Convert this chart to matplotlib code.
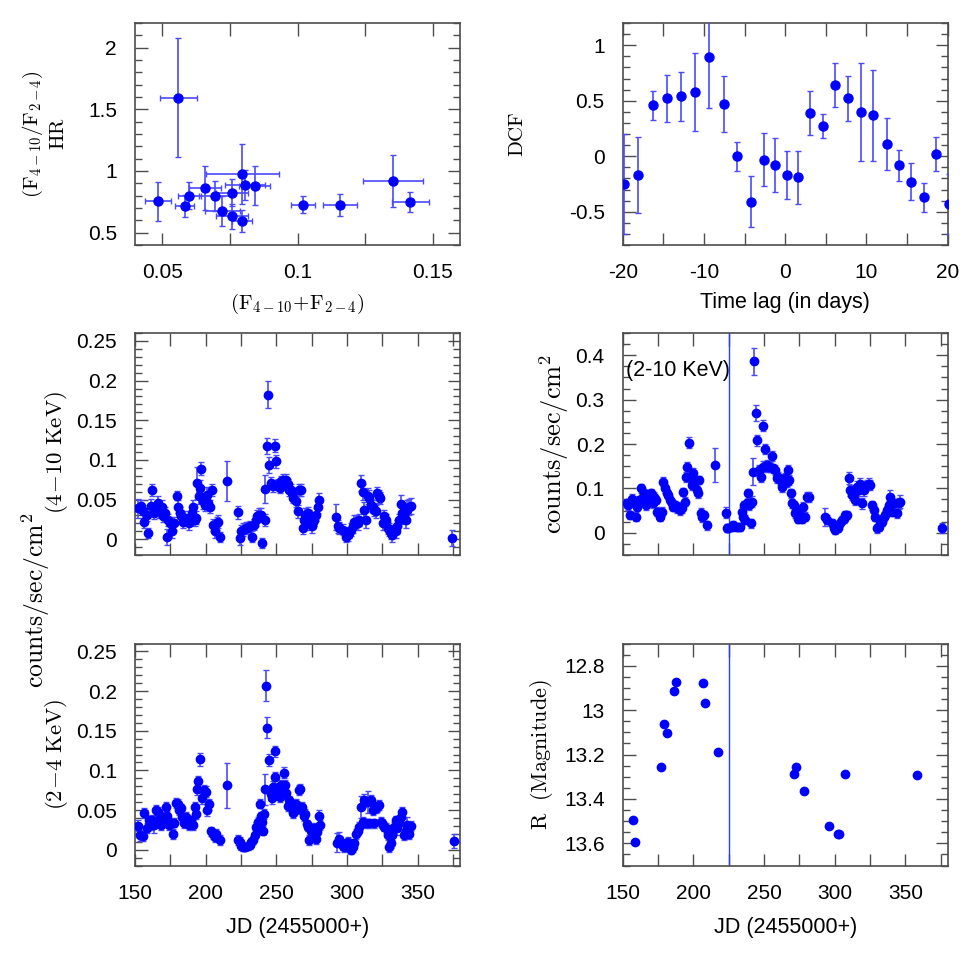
import matplotlib
matplotlib.use('Agg')
import matplotlib.pyplot as plt
from matplotlib.ticker import MultipleLocator

plt.rcParams['font.family'] = ['Liberation Sans', 'DejaVu Sans']
plt.rcParams['mathtext.fontset'] = 'cm'
plt.rcParams['axes.unicode_minus'] = False

# --- hardness ratio vs total flux (top left) ---
flux_sum = [0.0485, 0.056, 0.0583, 0.0601, 0.0658, 0.0696, 0.0723, 0.0758, 0.0759,
            0.0796, 0.0807, 0.0795, 0.0842, 0.1021, 0.1157, 0.1352, 0.1417]
hr = [0.754, 1.595, 0.713, 0.80, 0.862, 0.797, 0.676, 0.824, 0.632,
      0.976, 0.886, 0.595, 0.881, 0.727, 0.727, 0.916, 0.749]
sum_err = [0.0048, 0.0069, 0.0034, 0.0042, 0.006, 0.006, 0.0065, 0.006, 0.006,
           0.0134, 0.0073, 0.0038, 0.0057, 0.0044, 0.0064, 0.011, 0.0067]
hr_err = [0.16, 0.48, 0.09, 0.11, 0.18, 0.12, 0.125, 0.11, 0.1,
          0.24, 0.12, 0.09, 0.16, 0.068, 0.088, 0.21, 0.08]

# --- DCF (top right) ---
lag = [-19.9, -18.15, -16.3, -14.5, -12.8, -11.05, -9.4, -7.57, -5.97, -4.25, -2.6, -1.21, 0.27,
       1.58, 3.1, 4.6, 6.17, 7.69, 9.33, 10.85, 12.53, 14.05, 15.5, 17.05, 18.5, 20.2]
dcf = [-0.25, -0.17, 0.46, 0.52, 0.54, 0.58, 0.89, 0.47, 0.0, -0.41, -0.03, -0.08, -0.17,
       -0.19, 0.39, 0.27, 0.64, 0.52, 0.40, 0.37, 0.11, -0.08, -0.23, -0.37, 0.02, -0.43]
dcf_err = [0.45, 0.345, 0.13, 0.21, 0.22, 0.35, 0.46, 0.25, 0.13, 0.23, 0.235, 0.245, 0.22,
           0.24, 0.2, 0.11, 0.2, 0.2, 0.44, 0.41, 0.235, 0.14, 0.165, 0.13, 0.15, 0.27]

# --- 4-10 keV light curve (middle left) ---
jd_h = [152.4, 154.0, 155.4, 156.3, 158.2, 159.4, 161.0, 162.2, 163.4, 165.3,
        166.5, 167.2, 168.8, 170.0, 171.2, 172.3, 173.5, 174.7, 176.3, 177.5,
        179.4, 180.6, 181.7, 182.9, 184.1, 185.3, 186.4, 188.3, 190.0, 191.1,
        192.3, 193.5, 194.2, 195.1, 196.1, 197.0, 198.2, 199.4, 201.0, 201.7,
        202.9, 204.5, 205.2, 206.4, 208.1, 208.8, 209.9, 215.1, 223.1, 224.0,
        225.2, 226.4, 228.3, 229.9, 231.6, 233.0, 233.9, 235.3, 236.5, 237.7,
        238.9, 240.0, 241.7, 241.9, 243.3, 243.8, 244.7, 246.4, 247.6, 249.0,
        249.9, 251.1, 252.3, 253.4, 254.6, 255.8, 257.0, 258.1, 259.3,
        260.5, 261.2, 262.1, 264.0, 265.2, 266.4, 267.5, 268.7, 269.9, 270.6,
        271.5, 272.2, 273.4, 273.9, 275.3, 275.8, 276.9, 278.1, 279.3, 280.5,
        292.2, 293.4, 294.6, 296.9, 299.3, 300.4, 301.6, 302.8, 304.0, 305.1,
        306.3, 307.5, 308.7, 309.9, 311.0, 312.2, 313.4, 314.6, 315.8, 316.9,
        318.1, 319.3, 320.5, 321.2, 322.4, 323.3, 325.2, 326.4, 327.5, 328.7,
        329.8, 331.0, 332.2, 333.4, 334.5, 335.7, 336.9, 338.1, 339.3, 340.4,
        341.6, 342.8, 344.0, 345.1, 374.5]
flux_h = [0.039, 0.042, 0.035, 0.022, 0.031, 0.008, 0.042, 0.062, 0.033, 0.039,
          0.046, 0.035, 0.041, 0.029, 0.033, 0.003, 0.024, 0.020, 0.010, 0.020,
          0.055, 0.041, 0.033, 0.029, 0.022, 0.027, 0.024, 0.020, 0.033, 0.041,
          0.024, 0.027, 0.071, 0.054, 0.065, 0.089, 0.048, 0.043, 0.056, 0.045,
          0.041, 0.062, 0.018, 0.010, 0.020, 0.022, 0.003, 0.073, 0.034, 0.001,
          0.010, 0.012, 0.014, 0.014, 0.016, 0.003, 0.018, 0.024, 0.029, 0.031,
          0.031, -0.005, 0.024, 0.063, 0.117, 0.182, 0.094, 0.071, 0.067, 0.118,
          0.098, 0.069, 0.065, 0.073, 0.075, 0.071, 0.075, 0.069, 0.062,
          0.062, 0.058, 0.052, 0.048, 0.035, 0.062, 0.062, 0.014, 0.024, 0.031,
          0.024, 0.033, 0.029, 0.020, 0.016, 0.022, 0.024, 0.031, 0.041, 0.050,
          0.028, 0.016, 0.014, 0.012, 0.003, 0.005, 0.008, 0.012, 0.016, 0.022,
          0.022, 0.020, 0.024, 0.071, 0.060, 0.037, 0.024, 0.054, 0.052, 0.043,
          0.041, 0.037, 0.035, 0.058, 0.054, 0.052, 0.020, 0.029, 0.024, 0.014,
          0.012, 0.008, 0.005, 0.010, 0.010, 0.016, 0.024, 0.044, 0.033, 0.029,
          0.024, 0.037, 0.041, 0.042, 0.001]
err_h = [0.012, 0.008, 0.008, 0.008, 0.008, 0.006, 0.009, 0.008, 0.008, 0.008,
         0.008, 0.008, 0.008, 0.008, 0.008, 0.010, 0.008, 0.008, 0.008, 0.008,
         0.006, 0.008, 0.008, 0.008, 0.008, 0.008, 0.008, 0.008, 0.008, 0.008,
         0.008, 0.008, 0.020, 0.010, 0.010, 0.008, 0.010, 0.008, 0.010, 0.008,
         0.008, 0.008, 0.008, 0.008, 0.008, 0.008, 0.006, 0.025, 0.008, 0.008,
         0.008, 0.008, 0.007, 0.007, 0.007, 0.007, 0.007, 0.007, 0.008, 0.008,
         0.008, 0.006, 0.008, 0.018, 0.010, 0.017, 0.010, 0.008, 0.008, 0.008,
         0.008, 0.007, 0.007, 0.007, 0.007, 0.007, 0.007, 0.007, 0.007,
         0.007, 0.007, 0.007, 0.008, 0.008, 0.008, 0.008, 0.008, 0.008, 0.008,
         0.008, 0.008, 0.008, 0.008, 0.008, 0.008, 0.008, 0.008, 0.008, 0.008,
         0.016, 0.008, 0.007, 0.007, 0.007, 0.007, 0.007, 0.008, 0.008, 0.008,
         0.008, 0.008, 0.008, 0.010, 0.010, 0.010, 0.010, 0.010, 0.010, 0.008,
         0.008, 0.008, 0.008, 0.008, 0.008, 0.008, 0.008, 0.008, 0.008, 0.008,
         0.008, 0.008, 0.008, 0.008, 0.008, 0.008, 0.008, 0.012, 0.010, 0.010,
         0.010, 0.012, 0.010, 0.010, 0.010]

# --- 2-10 keV light curve (middle right) ---
jd_t = [152.8, 154.0, 155.2, 156.4, 157.5, 159.4, 160.4, 161.8, 162.7, 164.1,
        165.1, 166.5, 167.4, 168.8, 169.8, 171.2, 172.4, 173.6, 174.5, 175.5,
        176.4, 177.6, 178.8, 179.9, 181.1, 182.3, 183.5, 184.7, 185.9, 187.0,
        188.2, 189.4, 190.6, 191.8, 193.0, 194.1, 194.8, 195.8, 197.2, 198.1,
        199.1, 200.0, 201.2, 202.4, 203.3, 204.3, 205.2, 206.2, 207.6, 209.5,
        215.4, 222.9, 223.6, 224.8, 227.2, 228.4, 230.7, 233.1, 234.3, 235.0,
        235.9, 236.6, 237.8, 239.0, 239.7, 240.6, 241.4, 242.1, 243.2, 244.4,
        245.3, 246.8, 247.9, 249.1, 249.6, 250.8, 251.9, 253.1, 254.3, 255.5,
        256.7, 257.9, 259.1, 260.2, 261.4, 262.6, 263.8, 265.0, 266.2, 267.3,
        268.0, 269.0, 269.7, 270.9, 272.1, 273.2, 274.4, 275.6, 276.8, 277.9,
        279.1, 280.3, 281.5, 293.3, 294.5, 298.0, 299.2, 300.4, 301.6, 302.7,
        303.9, 305.1, 306.3, 307.5, 308.7, 309.9, 311.0, 312.2, 313.4, 314.6,
        315.8, 317.0, 318.1, 319.3, 320.5, 321.7, 322.9, 324.0, 325.2, 326.4,
        327.6, 328.8, 330.0, 331.1, 332.3, 333.5, 334.7, 335.9, 337.1, 338.2,
        339.4, 340.6, 341.8, 344.1, 345.3, 346.5, 376.0]
flux_t = [0.066, 0.062, 0.040, 0.077, 0.070, 0.036, 0.059, 0.074, 0.100, 0.081,
          0.089, 0.062, 0.085, 0.077, 0.089, 0.066, 0.081, 0.074, 0.047, 0.044,
          0.036, 0.047, 0.115, 0.100, 0.089, 0.085, 0.074, 0.066, 0.059, 0.062,
          0.055, 0.059, 0.051, 0.055, 0.092, 0.070, 0.126, 0.149, 0.203, 0.123,
          0.108, 0.134, 0.115, 0.096, 0.089, 0.119, 0.044, 0.036, 0.040, 0.017,
          0.153, 0.045, 0.011, 0.010, 0.014, 0.017, 0.014, 0.014, 0.047, 0.036,
          0.062, 0.029, 0.066, 0.089, 0.062, 0.021, 0.070, 0.138, 0.386, 0.269,
          0.208, 0.141, 0.126, 0.149, 0.241, 0.189, 0.153, 0.149, 0.149, 0.173,
          0.145, 0.141, 0.123, 0.126, 0.119, 0.104, 0.119, 0.123, 0.115, 0.141,
          0.119, 0.089, 0.066, 0.062, 0.044, 0.051, 0.032, 0.040, 0.032, 0.059,
          0.036, 0.081, 0.081, 0.036, 0.029, 0.021, 0.010, 0.006, 0.014, 0.010,
          0.021, 0.029, 0.032, 0.040, 0.040, 0.123, 0.096, 0.085, 0.089, 0.074,
          0.104, 0.096, 0.111, 0.066, 0.096, 0.104, 0.108, 0.111, 0.108, 0.062,
          0.051, 0.036, 0.010, 0.014, 0.021, 0.025, 0.036, 0.040, 0.051, 0.062,
          0.081, 0.047, 0.066, 0.044, 0.066, 0.070, 0.011]
err_t = [0.010, 0.010, 0.010, 0.010, 0.010, 0.010, 0.010, 0.010, 0.010, 0.010,
         0.010, 0.010, 0.010, 0.010, 0.010, 0.010, 0.010, 0.010, 0.010, 0.012,
         0.010, 0.010, 0.010, 0.010, 0.010, 0.010, 0.010, 0.010, 0.010, 0.010,
         0.010, 0.010, 0.010, 0.010, 0.010, 0.010, 0.011, 0.011, 0.012, 0.011,
         0.011, 0.011, 0.011, 0.010, 0.010, 0.010, 0.012, 0.012, 0.010, 0.010,
         0.038, 0.012, 0.009, 0.009, 0.009, 0.009, 0.009, 0.009, 0.010, 0.010,
         0.010, 0.010, 0.010, 0.010, 0.010, 0.010, 0.012, 0.030, 0.030, 0.018,
         0.012, 0.012, 0.012, 0.012, 0.012, 0.011, 0.011, 0.011, 0.011, 0.011,
         0.011, 0.011, 0.011, 0.011, 0.011, 0.011, 0.011, 0.011, 0.011, 0.011,
         0.011, 0.010, 0.010, 0.010, 0.010, 0.010, 0.010, 0.010, 0.010, 0.010,
         0.010, 0.012, 0.012, 0.020, 0.010, 0.009, 0.009, 0.009, 0.009, 0.009,
         0.009, 0.009, 0.009, 0.010, 0.010, 0.013, 0.012, 0.012, 0.012, 0.012,
         0.012, 0.012, 0.012, 0.012, 0.012, 0.012, 0.012, 0.012, 0.012, 0.010,
         0.010, 0.010, 0.010, 0.010, 0.010, 0.010, 0.010, 0.010, 0.010, 0.010,
         0.015, 0.010, 0.010, 0.010, 0.012, 0.015, 0.012]

# --- 2-4 keV light curve (bottom left) ---
jd_s = [152.4, 153.5, 155.4, 156.6, 158.2, 160.1, 161.3, 162.2, 163.4, 164.8,
        166.0, 167.2, 168.3, 169.5, 170.5, 171.6, 172.8, 174.0, 175.2, 176.6,
        177.7, 178.9, 180.1, 181.3, 182.4, 183.6, 184.8, 186.0, 187.1, 188.3,
        189.5, 191.1, 192.3, 193.0, 194.0, 194.9, 196.3, 197.7, 198.9, 200.1,
        201.2, 202.4, 204.1, 205.2, 206.4, 207.6, 209.9, 215.1, 222.9, 224.0,
        225.2, 226.4, 227.6, 229.9, 231.1, 232.3, 233.5, 234.6, 235.8, 237.0,
        238.2, 238.9, 239.8, 240.5, 241.2, 242.1, 242.9, 243.6, 244.7, 245.9,
        247.1, 248.0, 249.0, 249.4, 250.4, 251.1, 252.3, 253.4, 254.6, 255.5,
        256.5, 257.0, 258.1, 259.3, 260.5, 261.7, 262.8, 264.0, 265.2, 265.9,
        267.1, 268.2, 269.4, 270.6, 271.5, 272.7, 273.4, 274.6, 275.8, 276.9,
        278.1, 279.1, 280.0, 281.2, 292.7, 294.1, 296.9, 298.1, 299.3, 300.4,
        301.6, 303.0, 304.0, 305.1, 306.3, 307.5, 308.7, 309.8, 311.0, 312.2,
        313.4, 314.6, 315.7, 316.9, 318.1, 319.3, 320.4, 321.6, 322.8, 324.0,
        325.1, 326.3, 327.5, 328.7, 329.8, 331.0, 332.2, 333.4, 334.5, 335.7,
        336.9, 338.1, 339.2, 340.4, 341.6, 342.8, 343.9, 345.1, 375.7]
flux_s = [0.030, 0.018, 0.017, 0.046, 0.027, 0.037, 0.031, 0.038, 0.031, 0.050,
          0.048, 0.037, 0.031, 0.041, 0.039, 0.054, 0.043, 0.031, 0.033, 0.020,
          0.034, 0.059, 0.058, 0.050, 0.052, 0.041, 0.033, 0.041, 0.037, 0.031,
          0.037, 0.031, 0.054, 0.045, 0.077, 0.086, 0.114, 0.065, 0.075, 0.073,
          0.050, 0.057, 0.023, 0.020, 0.016, 0.020, 0.012, 0.081, 0.012, 0.010,
          0.005, 0.003, 0.003, 0.005, 0.006, 0.010, 0.012, 0.019, 0.029, 0.035,
          0.058, 0.042, 0.035, 0.024, 0.045, 0.076, 0.207, 0.154, 0.113, 0.070,
          0.065, 0.079, 0.091, 0.124, 0.071, 0.076, 0.067, 0.081, 0.078, 0.097,
          0.081, 0.072, 0.055, 0.062, 0.054, 0.046, 0.056, 0.058, 0.051, 0.075,
          0.077, 0.054, 0.042, 0.045, 0.032, 0.029, 0.012, 0.024, 0.018, 0.027,
          0.013, 0.022, 0.042, 0.031, 0.009, 0.014, 0.005, 0.003, 0.008, 0.010,
          0.005, 0.000, 0.003, 0.008, 0.020, 0.024, 0.029, 0.054, 0.035, 0.062,
          0.033, 0.060, 0.033, 0.063, 0.050, 0.033, 0.052, 0.054, 0.056, 0.035,
          0.033, 0.029, 0.027, 0.018, 0.003, 0.008, 0.018, 0.029, 0.037, 0.027,
          0.033, 0.041, 0.048, 0.018, 0.024, 0.031, 0.020, 0.030, 0.011]
err_s = [0.007, 0.007, 0.006, 0.006, 0.006, 0.006, 0.006, 0.006, 0.010, 0.006,
         0.006, 0.006, 0.006, 0.006, 0.006, 0.006, 0.006, 0.006, 0.006, 0.006,
         0.006, 0.006, 0.006, 0.006, 0.006, 0.006, 0.006, 0.006, 0.006, 0.006,
         0.006, 0.006, 0.006, 0.006, 0.008, 0.007, 0.008, 0.007, 0.007, 0.007,
         0.007, 0.007, 0.006, 0.006, 0.006, 0.006, 0.006, 0.028, 0.006, 0.006,
         0.005, 0.005, 0.005, 0.005, 0.005, 0.005, 0.005, 0.006, 0.006, 0.006,
         0.006, 0.006, 0.006, 0.006, 0.006, 0.020, 0.020, 0.013, 0.008, 0.007,
         0.007, 0.007, 0.007, 0.007, 0.007, 0.007, 0.007, 0.007, 0.007, 0.007,
         0.007, 0.007, 0.006, 0.006, 0.006, 0.006, 0.006, 0.006, 0.006, 0.006,
         0.006, 0.006, 0.006, 0.006, 0.006, 0.006, 0.006, 0.006, 0.006, 0.006,
         0.006, 0.006, 0.008, 0.006, 0.012, 0.008, 0.006, 0.006, 0.006, 0.006,
         0.006, 0.006, 0.006, 0.006, 0.006, 0.006, 0.006, 0.014, 0.006, 0.008,
         0.006, 0.014, 0.006, 0.006, 0.006, 0.006, 0.006, 0.006, 0.006, 0.006,
         0.006, 0.006, 0.006, 0.006, 0.006, 0.006, 0.006, 0.006, 0.006, 0.008,
         0.006, 0.006, 0.006, 0.006, 0.006, 0.010, 0.006, 0.006, 0.009]

# --- optical R magnitude (bottom right) ---
jd_r = [157.3, 158.5, 177.4, 179.3, 181.4, 186.4, 187.5, 207.1, 208.3,
        217.2, 271.1, 272.5, 278.2, 296.1, 302.3, 303.2, 307.0, 358.2]
mag_r = [13.495, 13.593, 13.258, 13.061, 13.104, 12.914, 12.873, 12.879, 12.966,
         13.190, 13.290, 13.257, 13.365, 13.521, 13.560, 13.560, 13.288, 13.293]
err_r = [0.008, 0.008, 0.008, 0.008, 0.008, 0.008, 0.008, 0.008, 0.008,
         0.008, 0.008, 0.008, 0.008, 0.008, 0.008, 0.008, 0.008, 0.008]

marker_col = '#0000ff'
err_col = '#4a4aff'
frame_col = '0.3'
TICK = 15
SANS_LAB = 15.5


def style(ax, xmaj, xmin, ymaj, ymin):
    ax.xaxis.set_major_locator(MultipleLocator(xmaj))
    ax.xaxis.set_minor_locator(MultipleLocator(xmin))
    ax.yaxis.set_major_locator(MultipleLocator(ymaj))
    ax.yaxis.set_minor_locator(MultipleLocator(ymin))
    ax.tick_params(which='both', direction='in', top=True, right=True,
                   color=frame_col, width=1.0, labelsize=TICK, pad=13)
    ax.tick_params(which='major', length=9)
    ax.tick_params(axis='y', which='minor', length=5)
    ax.tick_params(axis='x', which='minor', length=9)
    fmt = plt.FuncFormatter(lambda v, p: '%g' % round(v, 3))
    ax.xaxis.set_major_formatter(fmt)
    ax.yaxis.set_major_formatter(fmt)
    for s in ax.spines.values():
        s.set_color(frame_col)
        s.set_linewidth(1.2)


def errplot(ax, x, y, yerr, xerr=None, ms=6.5):
    ax.errorbar(x, y, yerr=yerr, xerr=xerr, fmt='o', color=marker_col, ms=ms,
                mec=marker_col, ecolor=err_col, elinewidth=1.2, capsize=2.5,
                capthick=1.0, zorder=3)


fig = plt.figure(figsize=(9.69, 9.69), dpi=100)

W = 325 / 969
H = 222 / 969
xl, xr = 135 / 969, 622.7 / 969
y_top, y_mid, y_bot = 1 - 245 / 969, 1 - 555 / 969, 1 - 865.5 / 969

ax1 = fig.add_axes([xl, y_top, W, H])
ax2 = fig.add_axes([xr, y_top, W, H])
ax3 = fig.add_axes([xl, y_mid, W, H])
ax4 = fig.add_axes([xr, y_mid, W, H])
ax5 = fig.add_axes([xl, y_bot, W, H])
ax6 = fig.add_axes([xr, y_bot, W, H])

# top left: HR vs flux
errplot(ax1, flux_sum, hr, hr_err, sum_err)
ax1.set_xlim(0.04, 0.16)
ax1.set_ylim(0.4, 2.2)
style(ax1, 0.05, 0.025, 0.5, 0.1)
ax1.set_xlabel(r'$(\mathrm{F}_{4-10}\!+\!\mathrm{F}_{2-4})$', fontsize=15)
ax1.xaxis.set_label_coords(0.5, -0.21)
ax1.set_ylabel(r'$(\mathrm{F}_{4-10}/\mathrm{F}_{2-4})$' + '\n' + r'$\mathrm{HR}$',
               fontsize=15, linespacing=1.3)
ax1.yaxis.set_label_coords(-0.206, 0.5)

# top right: DCF
errplot(ax2, lag, dcf, dcf_err)
ax2.set_xlim(-20, 20)
ax2.set_ylim(-0.8, 1.2)
style(ax2, 10, 5, 0.5, 0.1)
ax2.set_xlabel('Time lag (in days)', fontsize=SANS_LAB)
ax2.xaxis.set_label_coords(0.5, -0.21)
ax2.set_ylabel(r'$\mathrm{DCF}$', fontsize=15)
ax2.yaxis.set_label_coords(-0.294, 0.5)

# middle left: 4-10 keV
errplot(ax3, jd_h, flux_h, err_h, ms=6)
ax3.set_xlim(150, 380)
ax3.set_ylim(-0.02, 0.26)
style(ax3, 50, 25, 0.05, 0.01)
ax3.set_xticklabels([])
ax3.set_ylabel(r'$(4\!-\!10\ \mathrm{KeV})$', fontsize=16.5)
ax3.yaxis.set_label_coords(-0.2, 0.46)

# middle right: 2-10 keV
errplot(ax4, jd_t, flux_t, err_t, ms=6)
ax4.axvline(225, color='#2a3cff', lw=1.0, zorder=2)
ax4.set_xlim(150, 380)
ax4.set_ylim(-0.05, 0.45)
style(ax4, 50, 25, 0.1, 0.025)
ax4.set_xticklabels([])
ax4.set_ylabel(r'$\mathrm{counts/sec/cm^2}$', fontsize=19)
ax4.yaxis.set_label_coords(-0.16, 0.5)
ax4.text(0.01, 0.83, '(2-10 KeV)', transform=ax4.transAxes, fontsize=SANS_LAB,
         ha='left', va='center')

# bottom left: 2-4 keV
errplot(ax5, jd_s, flux_s, err_s, ms=6)
ax5.set_xlim(150, 380)
ax5.set_ylim(-0.02, 0.26)
style(ax5, 50, 25, 0.05, 0.01)
ax5.set_xlabel('JD (2455000+)', fontsize=SANS_LAB)
ax5.xaxis.set_label_coords(0.5, -0.23)
ax5.set_ylabel(r'$(2\!-\!4\ \mathrm{KeV})$', fontsize=16.5)
ax5.yaxis.set_label_coords(-0.2, 0.5)

# bottom right: R magnitude
errplot(ax6, jd_r, mag_r, err_r, ms=6)
ax6.axvline(225, color='#2a3cff', lw=1.0, zorder=2)
ax6.set_xlim(150, 380)
ax6.set_ylim(13.7, 12.7)
style(ax6, 50, 25, 0.2, 0.05)
ax6.set_xlabel('JD (2455000+)', fontsize=SANS_LAB)
ax6.xaxis.set_label_coords(0.5, -0.23)
ax6.set_ylabel(r'$\mathrm{R\ \ (Magnitude)}$', fontsize=16)
ax6.yaxis.set_label_coords(-0.208, 0.5)

# shared label for the two left light curves
fig.text(36 / 969, 1 - 600 / 969, r'$\mathrm{counts/sec/cm^2}$', rotation=90,
         fontsize=18.5, ha='center', va='center')

fig.savefig('out.png', dpi=100)
